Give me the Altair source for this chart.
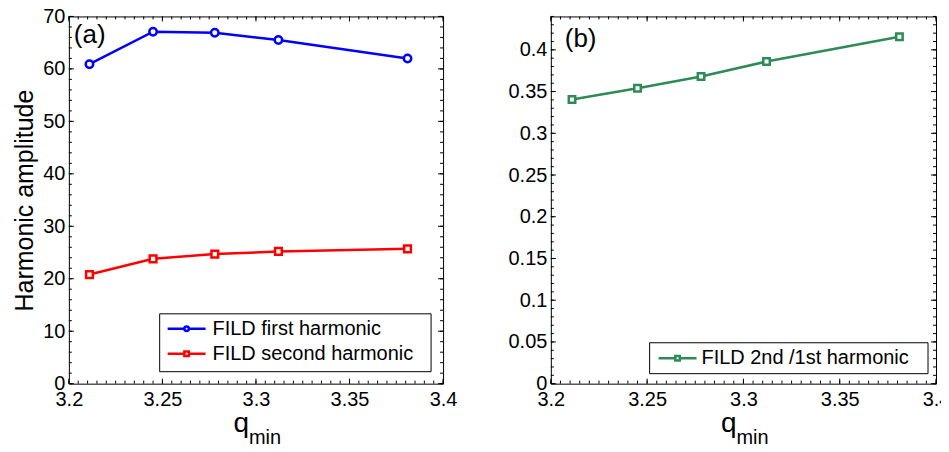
import altair as alt
import pandas as pd

# ---------------- data ----------------
q_min = [3.211, 3.245, 3.278, 3.312, 3.381]
first_harmonic = [60.9, 67.1, 66.9, 65.5, 62.0]
second_harmonic = [20.8, 23.8, 24.7, 25.2, 25.7]
ratio_2nd_1st = [0.3405, 0.354, 0.368, 0.386, 0.4156]

x_tick_values = [3.2, 3.25, 3.3, 3.35, 3.4]
ya_tick_values = [0, 10, 20, 30, 40, 50, 60, 70]
yb_tick_values = [0, 0.05, 0.1, 0.15, 0.2, 0.25, 0.3, 0.35, 0.4]

legend_a = ["FILD first harmonic", "FILD second harmonic"]
legend_b = ["FILD 2nd /1st harmonic"]
panel_labels = ["(a)", "(b)"]
y_title_a = "Harmonic amplitude"

# minor tick positions (axis decoration only)
x_minor = [round(3.2 + 0.005 * i, 4) for i in range(41)]
ya_minor = [2 * i for i in range(36)]
yb_minor = [round(0.01 * i, 3) for i in range(45)]

FONT = "Liberation Sans"
BLUE = "#0000ff"
RED = "#ff0000"
GREEN = "#2e8b57"

W_A = 375
W_B = 386
H = 368
MAJ = 5
MIN = 3

df_a = pd.DataFrame({"q": q_min, "first": first_harmonic, "second": second_harmonic})
df_b = pd.DataFrame({"q": q_min, "ratio": ratio_2nd_1st})
one = pd.DataFrame({"k": [0]})

xs = alt.Scale(domain=[3.2, 3.4], nice=False, zero=False)
ya = alt.Scale(domain=[0, 70], nice=False)
yb = alt.Scale(domain=[0, 0.44], nice=False)


def x_axis():
    return alt.Axis(values=x_tick_values, format=".2~f", title=None, ticks=False,
                    domain=False, grid=False, labelFont=FONT, labelFontSize=20,
                    labelColor="black", labelPadding=6, labelFlush=False)


def y_axis(values, title=None):
    kw = dict(values=values, format=".2~f", ticks=False, domain=False, grid=False,
              labelFont=FONT, labelFontSize=20, labelColor="black", labelPadding=4)
    if title:
        kw.update(title=title, titleFont=FONT, titleFontSize=25, titleFontWeight="normal",
                  titleColor="black", titlePadding=5)
    else:
        kw.update(title=None)
    return alt.Axis(**kw)


def tick_layers(yscale, yax, W, xmaj, xmin_, ymaj, ymin_):
    layers = []
    for vals, L in ((xmaj, MAJ), (xmin_, MIN)):
        d = pd.DataFrame({"q": vals})
        base = alt.Chart(d).mark_rule(color="black", strokeWidth=1)
        layers.append(base.encode(x=alt.X("q:Q", scale=xs, axis=x_axis()),
                                  y=alt.value(H), y2=alt.value(H - L)))
        layers.append(base.encode(x=alt.X("q:Q", scale=xs, axis=x_axis()),
                                  y=alt.value(0), y2=alt.value(L)))
    for vals, L in ((ymaj, MAJ), (ymin_, MIN)):
        d = pd.DataFrame({"val": vals})
        base = alt.Chart(d).mark_rule(color="black", strokeWidth=1)
        layers.append(base.encode(y=alt.Y("val:Q", scale=yscale, axis=yax),
                                  x=alt.value(0), x2=alt.value(L)))
        layers.append(base.encode(y=alt.Y("val:Q", scale=yscale, axis=yax),
                                  x=alt.value(W), x2=alt.value(W - L)))
    return layers


def series(df, field, yscale, yax, color, shape, size):
    enc = dict(x=alt.X("q:Q", scale=xs, axis=x_axis()),
               y=alt.Y(f"{field}:Q", scale=yscale, axis=yax))
    line = alt.Chart(df).mark_line(color=color, strokeWidth=2.5).encode(**enc)
    pts = alt.Chart(df).mark_point(shape=shape, size=size, filled=True, fill="white",
                                   stroke=color, strokeWidth=2.5, opacity=1).encode(**enc)
    return [line, pts]


def legend(box, rows):
    x0, x1, y0, y1 = box
    layers = [alt.Chart(one).mark_rect(fill="white", stroke="black", strokeWidth=1).encode(
        x=alt.value(x0), x2=alt.value(x1), y=alt.value(y0), y2=alt.value(y1))]
    for (label, color, shape, yy, sx0, sx1, tx) in rows:
        layers.append(alt.Chart(one).mark_rule(color=color, strokeWidth=2.5).encode(
            x=alt.value(sx0), x2=alt.value(sx1), y=alt.value(yy)))
        layers.append(alt.Chart(one).mark_point(shape=shape, size=20, filled=True, fill="white",
                                                stroke=color, strokeWidth=2.5, opacity=1).encode(
            x=alt.value((sx0 + sx1) / 2), y=alt.value(yy)))
        layers.append(alt.Chart(one).mark_text(text=label, font=FONT, fontSize=20, align="left",
                                               baseline="middle", color="black").encode(
            x=alt.value(tx), y=alt.value(yy)))
    return layers


def texts(W, label, lx, ly):
    return [
        alt.Chart(one).mark_text(text=label, font=FONT, fontSize=26, align="left",
                                 baseline="middle", color="black").encode(
            x=alt.value(lx), y=alt.value(ly)),
        alt.Chart(one).mark_text(text="q", font=FONT, fontSize=28, align="right",
                                 baseline="alphabetic", color="black").encode(
            x=alt.value(W / 2 - 7), y=alt.value(H + 48)),
        alt.Chart(one).mark_text(text="min", font=FONT, fontSize=20, align="left",
                                 baseline="alphabetic", color="black").encode(
            x=alt.value(W / 2 - 7), y=alt.value(H + 60)),
    ]


# ---------------- panel (a) ----------------
yax_a = y_axis(ya_tick_values, y_title_a)
layers_a = []
layers_a += tick_layers(ya, yax_a, W_A, x_tick_values, x_minor, ya_tick_values, ya_minor)
layers_a += series(df_a, "first", ya, yax_a, BLUE, "circle", 56)
layers_a += series(df_a, "second", ya, yax_a, RED, "square", 45)
layers_a += legend((91, 363, H - 70, H - 12), [
    (legend_a[0], BLUE, "circle", H - 55, 99, 137, 144),
    (legend_a[1], RED, "square", H - 30, 99, 137, 144),
])
layers_a += texts(W_A, panel_labels[0], 5, 19)
panel_a = alt.layer(*layers_a).properties(width=W_A, height=H)

# ---------------- panel (b) ----------------
yax_b = y_axis(yb_tick_values)
layers_b = []
layers_b += tick_layers(yb, yax_b, W_B, x_tick_values, x_minor, yb_tick_values, yb_minor)
layers_b += series(df_b, "ratio", yb, yax_b, GREEN, "square", 42)
layers_b += legend((99, 378, H - 41, H - 10), [
    (legend_b[0], GREEN, "square", H - 25.5, 108, 146, 151),
])
layers_b += texts(W_B, panel_labels[1], 14, 23)
panel_b = alt.layer(*layers_b).properties(width=W_B, height=H)

chart = alt.hconcat(panel_a, panel_b, spacing=49).configure_view(
    stroke="black", strokeWidth=1).properties(
    padding={"left": 4, "top": -3, "right": -10, "bottom": -4})

chart.save("out.html", embed_options={"renderer": "svg", "actions": False})
